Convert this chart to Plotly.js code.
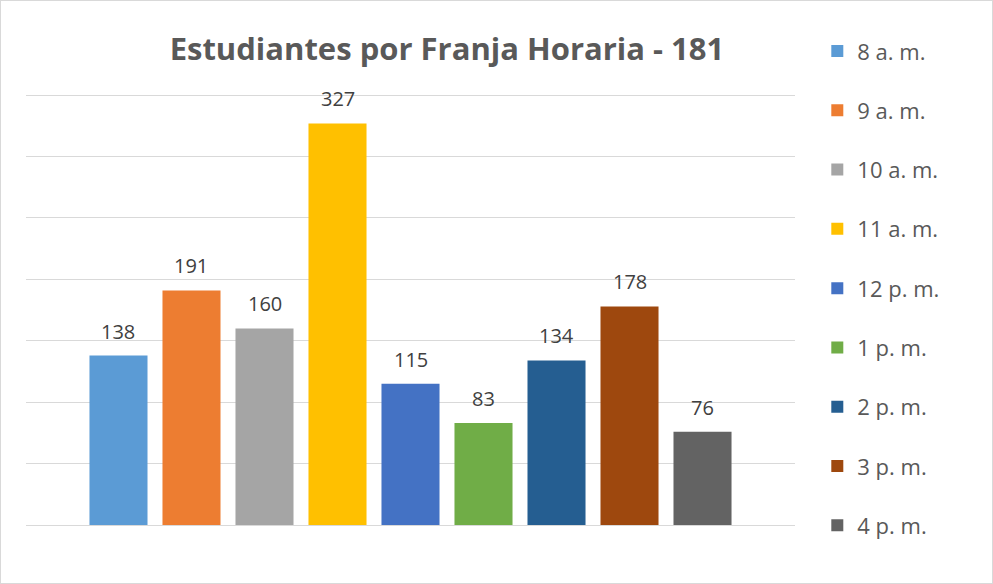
<!DOCTYPE html>
<html>
<head>
<meta charset="utf-8">
<script src="https://cdn.plot.ly/plotly-3.0.1.min.js"></script>
<style>
html,body{margin:0;padding:0;background:#fff;}
#chart{width:991px;height:582px;border:1px solid #d9d9d9;}
</style>
</head>
<body>
<div id="chart"></div>
<script>
const seriesNames = ["8 a. m.","9 a. m.","10 a. m.","11 a. m.","12 p. m.","1 p. m.","2 p. m.","3 p. m.","4 p. m."];
const seriesValues = [138,191,160,327,115,83,134,178,76];
const seriesColors = ["#5B9BD5","#ED7D31","#A5A5A5","#FFC000","#4472C4","#70AD47","#255E91","#9E480E","#636363"];
const chartTitle = "Estudiantes por Franja Horaria - 181";

const FONT = "Open Sans, DejaVu Sans, sans-serif";
const traces = seriesNames.map((n,i)=>({
  type:"bar",
  name:n,
  x:[n],
  y:[seriesValues[i]],
  width:0.795,
  marker:{color:seriesColors[i]},
  legendgroup:"g"+i,
  hoverinfo:"skip"
}));

const annotations = seriesNames.map((n,i)=>({
  x:n, y:seriesValues[i], xref:"x", yref:"y",
  text:String(seriesValues[i]),
  showarrow:false, yanchor:"bottom", yshift:9,
  font:{family:FONT,size:20,color:"#404040"}
}));

const layout = {
  width:991,height:582,
  paper_bgcolor:"#fff",plot_bgcolor:"#fff",
  margin:{l:25,r:197,t:88,b:58},
  title:{text:"<b>"+chartTitle+"</b>",font:{family:FONT,size:31,color:"#595959"},x:0.45,xanchor:"center",y:0.918,yanchor:"middle"},
  barmode:"overlay",
  showlegend:true,
  legend:{x:1.029,xanchor:"left",y:1.135,yanchor:"top",maxheight:1000,font:{family:FONT,size:22,color:"#595959"},tracegroupgap:27.7,traceorder:"grouped",itemwidth:30},
  annotations:annotations,
  xaxis:{type:"category",range:[-1.267,9.267],showticklabels:false,showgrid:false,zeroline:false,showline:false,ticks:""},
  yaxis:{range:[0,355],tickvals:[0,50,100,150,200,250,300,350],showticklabels:false,showgrid:true,gridcolor:"#d9d9d9",gridwidth:1,zeroline:true,zerolinecolor:"#d9d9d9",zerolinewidth:1,ticks:""}
};
Plotly.newPlot("chart",traces,layout,{displayModeBar:false,staticPlot:true});
</script>
</body>
</html>
